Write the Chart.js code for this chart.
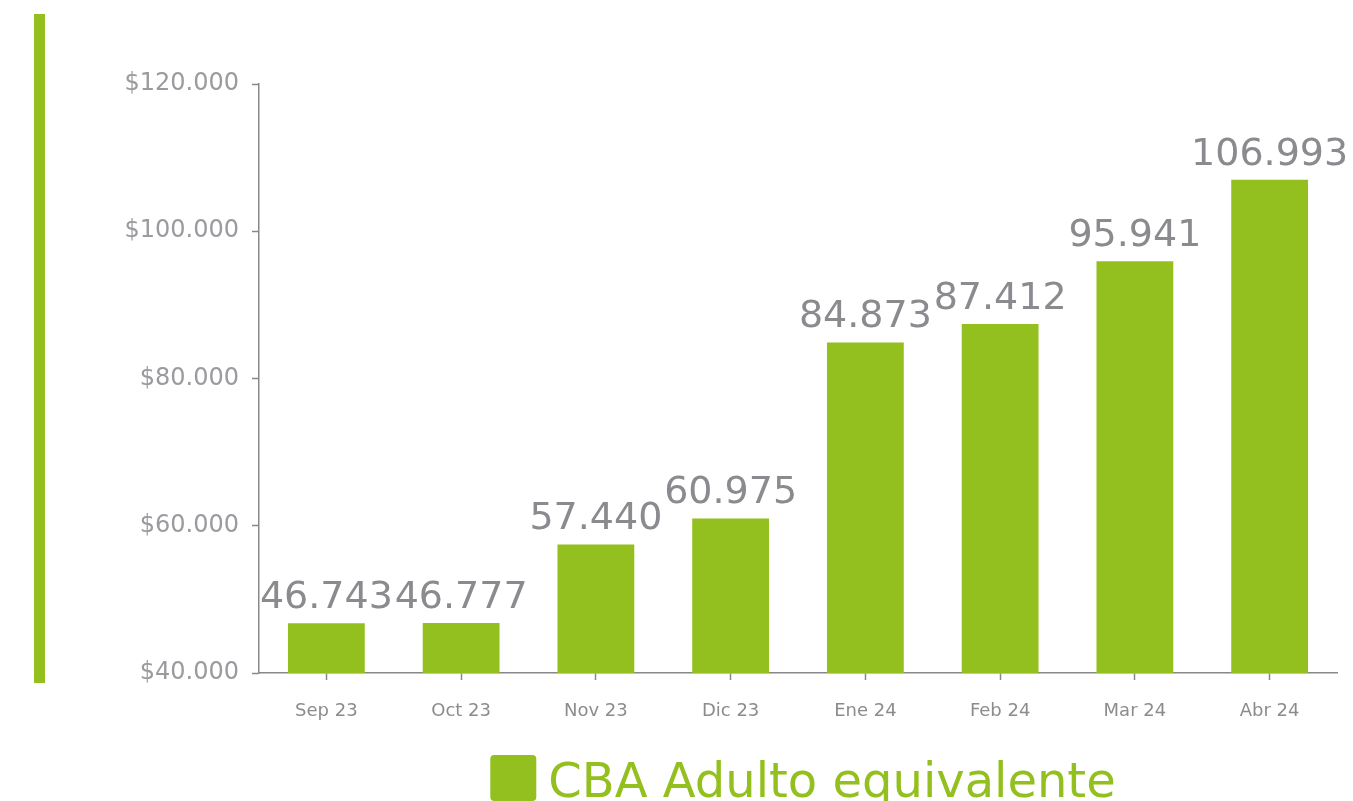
<!DOCTYPE html>
<html>
<head>
<meta charset="utf-8">
<script src="https://cdn.jsdelivr.net/npm/chart.js@4.4.1/dist/chart.umd.min.js"></script>
<style>
html,body{margin:0;padding:0;background:#fff;overflow:hidden;}
#wrap{position:relative;width:1353px;height:801px;}
#accent{position:absolute;left:34px;top:14px;width:11px;height:669px;background:#93c01f;}
canvas{position:absolute;left:0;top:0;}
</style>
</head>
<body>
<div id="wrap">
<canvas id="c" width="1353" height="801"></canvas>
<div id="accent"></div>
</div>
<script>
const categories = ["Sep 23","Oct 23","Nov 23","Dic 23","Ene 24","Feb 24","Mar 24","Abr 24"];
const cbaValues = [46743, 46777, 57440, 60975, 84873, 87412, 95941, 106993];
const seriesName = "CBA Adulto equivalente";
const yTicks = [40000, 60000, 80000, 100000, 120000];

const GREEN = "#93c01f";
const fmt = v => String(v).replace(/\B(?=(\d{3})+(?!\d))/g, ".");

const valueLabels = {
  id: "valueLabels",
  afterDatasetsDraw(chart) {
    const ctx = chart.ctx;
    const meta = chart.getDatasetMeta(0);
    ctx.save();
    ctx.font = "38px 'DejaVu Sans'";
    ctx.fillStyle = "#8a8a8f";
    ctx.textAlign = "center";
    ctx.textBaseline = "bottom";
    meta.data.forEach((bar, i) => {
      ctx.fillText(fmt(chart.data.datasets[0].data[i]), bar.x, bar.y - 6);
    });
    ctx.restore();
  }
};

// Legend drawn centred under the plot area (as in the reference)
const bottomLegend = {
  id: "bottomLegend",
  afterDraw(chart) {
    const ctx = chart.ctx;
    const ds = chart.data.datasets[0];
    const area = chart.chartArea;
    ctx.save();
    ctx.font = "48px 'DejaVu Sans'";
    const tw = ctx.measureText(ds.label).width;
    const box = 46, gap = 12;
    const total = box + gap + tw;
    const x0 = (area.left + area.right) / 2 - total / 2 + 5;
    const yTop = 755;
    ctx.fillStyle = ds.backgroundColor;
    ctx.beginPath();
    ctx.roundRect(x0, yTop, box, box, 4);
    ctx.fill();
    ctx.fillStyle = GREEN;
    ctx.textAlign = "left";
    ctx.textBaseline = "alphabetic";
    ctx.fillText(ds.label, x0 + box + gap, 797);
    ctx.restore();
  }
};

new Chart(document.getElementById("c"), {
  type: "bar",
  data: {
    labels: categories,
    datasets: [{
      label: seriesName,
      data: cbaValues,
      backgroundColor: GREEN,
      borderWidth: 0,
      barPercentage: 0.57,
      categoryPercentage: 1.0
    }]
  },
  options: {
    responsive: false,
    animation: false,
    layout: { padding: { top: 84, right: 16, left: 0, bottom: 70 } },
    plugins: {
      tooltip: { enabled: false },
      legend: { display: false }
    },
    scales: {
      x: {
        offset: true,
        grid: { display: true, drawOnChartArea: false, offset: false, drawTicks: true, tickLength: 7, color: "#888", tickWidth: 1.5 },
        border: { display: true, color: "#888", width: 1.5 },
        ticks: { color: "#8c8c8c", font: { family: "'DejaVu Sans'", size: 18 }, padding: 21 },
        afterFit(scale) { scale.height = 58; }
      },
      y: {
        min: 40000,
        max: 120000,
        afterBuildTicks(scale) { scale.ticks = yTicks.map(v => ({ value: v })); },
        grid: { display: true, drawOnChartArea: false, drawTicks: true, tickLength: 7, color: "#888", tickWidth: 1.5 },
        border: { display: true, color: "#888", width: 1.5 },
        ticks: { color: "#9a9a9f", font: { family: "'DejaVu Sans'", size: 24 }, padding: 13, callback: v => "$" + fmt(v) },
        afterFit(scale) { scale.width = 259; }
      }
    }
  },
  plugins: [valueLabels, bottomLegend]
});
</script>
</body>
</html>
